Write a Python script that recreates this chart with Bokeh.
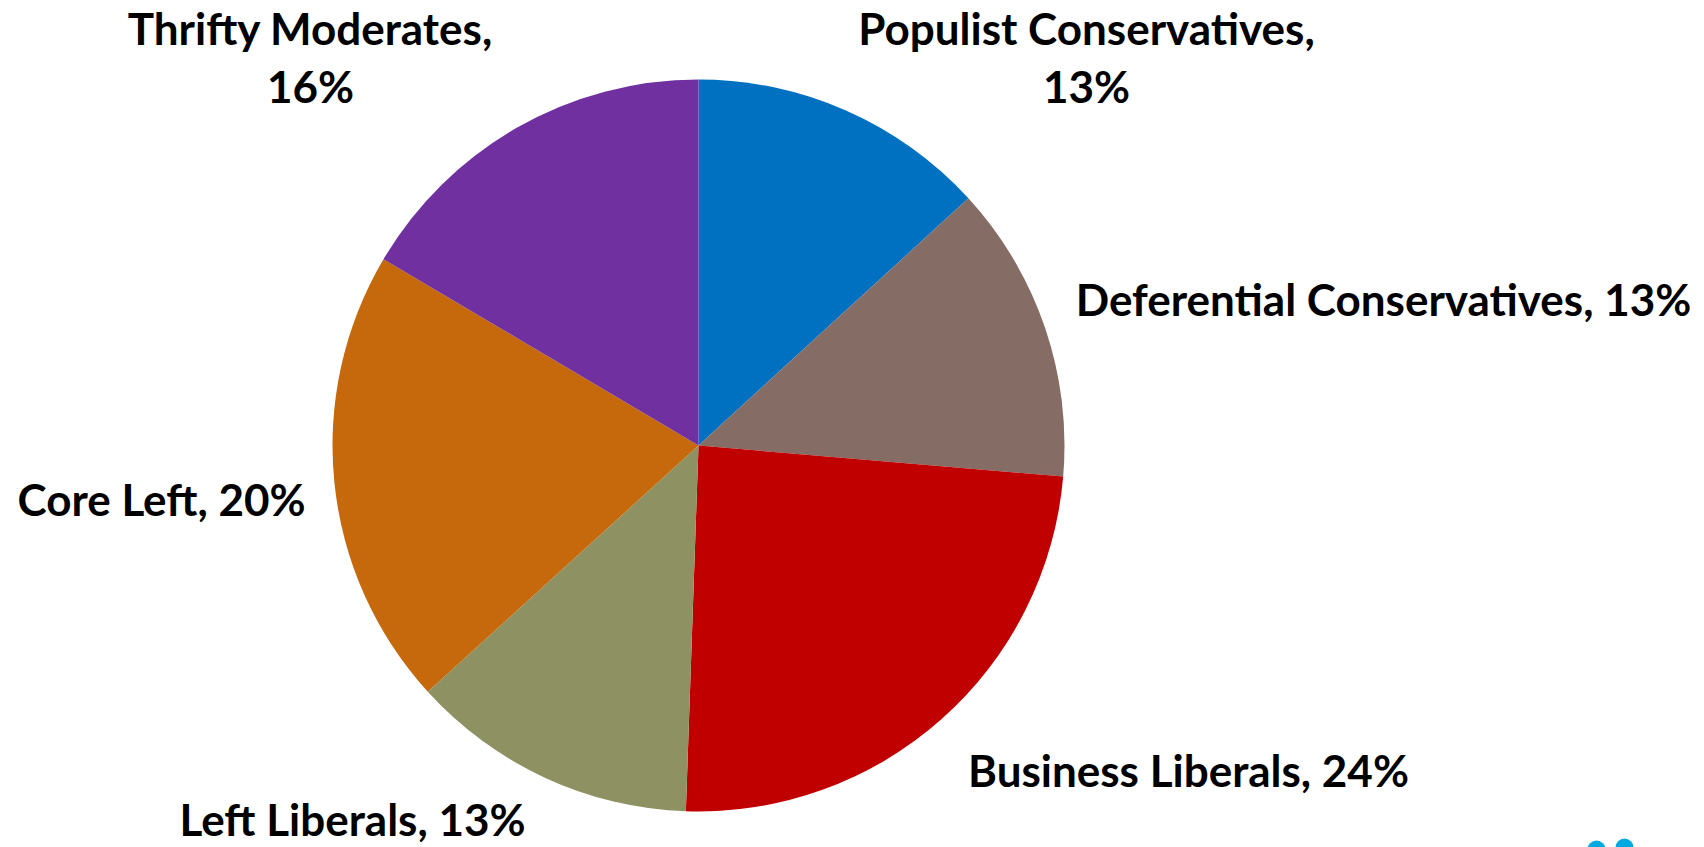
import numpy as np
from bokeh.plotting import figure
from bokeh.models import ColumnDataSource
from bokeh.core.properties import value
from bokeh.embed import file_html
from bokeh.resources import INLINE

# ---- data ----
segments = ["Populist Conservatives", "Deferential Conservatives", "Business Liberals",
            "Left Liberals", "Core Left", "Thrifty Moderates"]
shares = [13.2, 13.15, 24.2, 12.7, 20.25, 16.5]
pct_labels = ["13%", "13%", "24%", "13%", "20%", "16%"]
colors = ["#0070C0", "#856C65", "#C00000", "#8E9262", "#C5690C", "#7030A0"]

# ---- layout ----
W, H = 1704, 847
CX, CY, R = 698, 445, 366     # page pixels (y from top)
FS = 44

def fy(y):
    return H - y

p = figure(width=W, height=H, x_range=(0, W), y_range=(0, H),
           output_backend="svg", toolbar_location=None, min_border=0)
p.axis.visible = False
p.grid.visible = False
p.outline_line_color = None
p.background_fill_color = "white"

vals = np.array(shares, dtype=float)
frac = vals / vals.sum()
cum = np.concatenate([[0], np.cumsum(frac)])
start = np.pi / 2 - 2 * np.pi * cum[:-1]
end = np.pi / 2 - 2 * np.pi * cum[1:]
src = ColumnDataSource(dict(x=[CX] * len(vals), y=[fy(CY)] * len(vals),
                            start=start, end=end, color=colors, name=segments))
p.wedge(x="x", y="y", radius=R, radius_units="screen", start_angle="start", end_angle="end",
        direction="clock", fill_color="color", line_color=None, source=src)

# label placement in page pixels: (x center, baseline y [, second line y])
two_line = {0: (1086, 27, 85), 5: (310, 27, 85)}
one_line = {1: (1383, 298), 2: (1188, 769), 3: (352, 818), 4: (161, 498)}

tx, ty, tt = [], [], []
for i, name in enumerate(segments):
    if i in two_line:
        x, y1, y2 = two_line[i]
        tx += [x, x]
        ty += [fy(y1), fy(y2)]
        tt += [name + ",", pct_labels[i]]
    else:
        x, y = one_line[i]
        tx.append(x)
        ty.append(fy(y))
        tt.append(name + ", " + pct_labels[i])

lsrc = ColumnDataSource(dict(x=tx, y=ty, t=tt))
p.text(x="x", y="y", text="t", source=lsrc, text_align="center", text_baseline="alphabetic",
       text_font=value("Lato"), text_font_style="bold", text_font_size=f"{FS}px",
       text_color="black")

# partial logo dots at the bottom-right edge
p.scatter(x=[1596, 1624], y=[fy(849), fy(847)], size=18, marker="circle",
          fill_color="#00A9E0", line_color=None)

open("out.html", "w").write(file_html(p, INLINE))
